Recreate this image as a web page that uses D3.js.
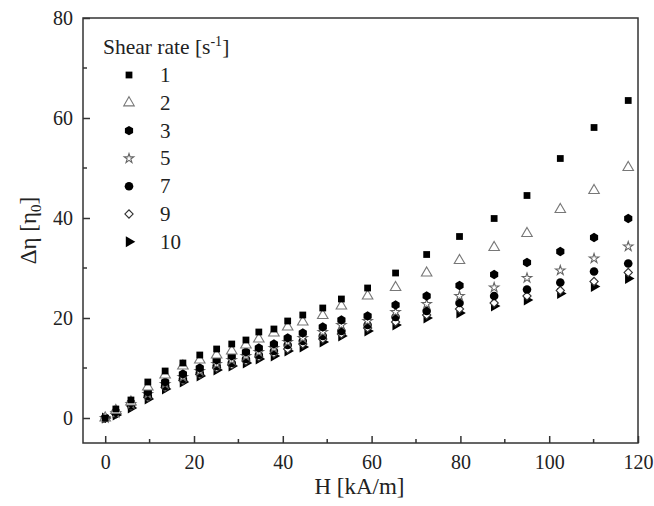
<!DOCTYPE html>
<html>
<head>
<meta charset="utf-8">
<script src="https://cdn.jsdelivr.net/npm/d3@7"></script>
<style>
html,body{margin:0;padding:0;background:#fff;}
svg{display:block;font-family:"Liberation Serif","Times New Roman",serif;}
</style>
</head>
<body>
<svg id="chart" width="654" height="506"></svg>
<script>
const H = [0, 2.4, 5.8, 9.6, 13.5, 17.5, 21.3, 25.1, 28.5, 31.7, 34.6, 38, 41.1, 44.5, 49, 53.2, 59.1, 65.4, 72.4, 79.8, 87.6, 95, 102.5, 110.1, 117.8];
const rate1  = [0, 1.8, 3.6, 7.2, 9.4, 11.0, 12.6, 13.8, 14.8, 15.6, 17.2, 17.8, 19.4, 20.6, 22.0, 23.8, 26.0, 29.0, 32.7, 36.3, 39.9, 44.5, 51.9, 58.1, 63.5];
const rate2  = [0, 1.5, 3.2, 6.2, 8.6, 10.4, 11.6, 12.6, 13.4, 14.6, 15.8, 17.0, 18.2, 19.2, 20.5, 22.4, 24.4, 26.1, 29.0, 31.5, 34.1, 36.9, 41.7, 45.5, 50.1];
const rate3  = [0, 1.2, 3.0, 5.2, 7.2, 8.8, 10.0, 11.6, 12.4, 13.2, 14.0, 14.8, 16.0, 17.0, 18.2, 19.6, 20.4, 22.6, 24.4, 26.5, 28.7, 31.1, 33.3, 36.1, 39.9];
const rate5  = [0, 1.0, 2.8, 4.8, 6.8, 8.2, 9.4, 10.8, 11.6, 12.4, 13.2, 14.0, 15.2, 16.0, 17.2, 18.6, 19.4, 21.2, 22.8, 24.4, 26.1, 28.0, 29.5, 31.9, 34.3];
const rate7  = [0, 0.9, 2.6, 4.4, 6.4, 7.8, 9.0, 10.4, 11.0, 11.8, 12.6, 13.4, 14.6, 15.4, 16.4, 17.4, 18.6, 20.2, 21.4, 23.0, 24.4, 25.7, 27.1, 29.3, 30.9];
const rate9  = [0, 0.8, 2.4, 4.1, 6.1, 7.5, 8.7, 10.0, 10.6, 11.4, 12.2, 12.9, 13.8, 14.8, 15.8, 16.8, 18.0, 19.2, 20.6, 21.8, 23.0, 24.4, 25.5, 27.3, 29.1];
const rate10 = [0, 0.6, 2.0, 3.8, 5.8, 7.2, 8.4, 9.6, 10.4, 11.0, 11.8, 12.4, 13.4, 14.2, 15.2, 16.4, 17.4, 18.6, 20.0, 21.0, 22.4, 23.6, 24.9, 26.3, 27.9];
const seriesNames = ["1", "2", "3", "5", "7", "9", "10"];
const seriesValues = [rate1, rate2, rate3, rate5, rate7, rate9, rate10];
const xTicks = [0, 20, 40, 60, 80, 100, 120];
const yTicks = [0, 20, 40, 60, 80];
const xMinor = [10, 30, 50, 70, 90, 110];
const yMinor = [10, 30, 50, 70];

const svg = d3.select("#chart");
const L = 83, R = 638, T = 18, B = 443;
const x = d3.scaleLinear().domain([-5, 120]).range([L, R]);
const y = d3.scaleLinear().domain([-5, 80]).range([B, T]);

const axisColor = "#333";
svg.append("rect").attr("x", L).attr("y", T).attr("width", R - L).attr("height", B - T)
  .attr("fill", "none").attr("stroke", axisColor).attr("stroke-width", 1.5);

const gx = svg.append("g").attr("transform", `translate(0,${B})`)
  .call(d3.axisBottom(x).tickValues(xTicks).tickSizeInner(-7).tickSizeOuter(0).tickPadding(12));
gx.select(".domain").remove();
gx.selectAll(".tick line").attr("stroke", axisColor).attr("stroke-width", 1.5);
gx.selectAll(".tick text").attr("font-size", 20).attr("fill", "#222").attr("font-family", "Liberation Serif");
gx.selectAll(".minor").data(xMinor).enter().append("line")
  .attr("x1", d => x(d)).attr("x2", d => x(d)).attr("y1", 0).attr("y2", -4)
  .attr("stroke", axisColor).attr("stroke-width", 1.5);

const gy = svg.append("g").attr("transform", `translate(${L},0)`)
  .call(d3.axisLeft(y).tickValues(yTicks).tickSizeInner(-7).tickSizeOuter(0).tickPadding(10));
gy.select(".domain").remove();
gy.selectAll(".tick line").attr("stroke", axisColor).attr("stroke-width", 1.5);
gy.selectAll(".tick text").attr("font-size", 20).attr("fill", "#222").attr("font-family", "Liberation Serif");
gy.selectAll(".minor").data(yMinor).enter().append("line")
  .attr("y1", d => y(d)).attr("y2", d => y(d)).attr("x1", 0).attr("x2", 4)
  .attr("stroke", axisColor).attr("stroke-width", 1.5);

svg.append("text").attr("x", (L + R) / 2 - 1).attr("y", 494).attr("text-anchor", "middle")
  .attr("font-size", 23).attr("fill", "#222").text("H [kA/m]");
const yl = svg.append("text").attr("transform", `translate(36,${(T + B) / 2}) rotate(-90)`)
  .attr("text-anchor", "middle").attr("font-size", 23).attr("fill", "#222");
yl.append("tspan").text("Δη [η");
yl.append("tspan").attr("font-size", 15).attr("dy", 5).text("0");
yl.append("tspan").attr("dy", -5).text("]");

const hexagon = {
  draw(ctx, size) {
    const r = Math.sqrt(size / (1.5 * Math.sqrt(3)));
    for (let i = 0; i < 6; i++) {
      const a = Math.PI / 6 + i * Math.PI / 3;
      const px = r * Math.cos(a), py = r * Math.sin(a);
      if (i === 0) ctx.moveTo(px, py); else ctx.lineTo(px, py);
    }
    ctx.closePath();
  }
};
const styles = [
  {type: d3.symbolSquare, size: 46, fill: "#000", stroke: "none", rot: 0},
  {type: d3.symbolTriangle, size: 48, fill: "#fff", stroke: "#777", rot: 0},
  {type: hexagon, size: 58, fill: "#000", stroke: "none", rot: 0},
  {type: d3.symbolStar, size: 28, fill: "#fff", stroke: "#666", rot: 0},
  {type: d3.symbolCircle, size: 58, fill: "#000", stroke: "none", rot: 0},
  {type: d3.symbolSquare, size: 34, fill: "#fff", stroke: "#333", rot: 45},
  {type: d3.symbolTriangle, size: 52, fill: "#000", stroke: "none", rot: 90}
];

const plot = svg.append("g");
for (let s = seriesValues.length - 1; s >= 0; s--) {
  const st = styles[s];
  const sym = d3.symbol().type(st.type).size(st.size);
  plot.append("g").selectAll("path").data(H.map((h, i) => [h, seriesValues[s][i]])).enter()
    .append("path")
    .attr("d", sym)
    .attr("transform", d => `translate(${x(d[0])},${y(d[1])}) rotate(${st.rot})`)
    .attr("fill", st.fill).attr("stroke", st.stroke).attr("stroke-width", 1.1);
}

const lg = svg.append("g");
const lt = lg.append("text").attr("x", 103).attr("y", 54).attr("font-size", 21.5).attr("fill", "#222");
lt.append("tspan").text("Shear rate [s");
lt.append("tspan").attr("font-size", 14).attr("dy", -8).text("-1");
lt.append("tspan").attr("dy", 8).text("]");
seriesNames.forEach((n, i) => {
  const st = styles[i];
  const cy = 75 + i * 27.8;
  lg.append("path").attr("d", d3.symbol().type(st.type).size(st.size)())
    .attr("transform", `translate(129,${cy}) rotate(${st.rot})`)
    .attr("fill", st.fill).attr("stroke", st.stroke).attr("stroke-width", 1.1);
  lg.append("text").attr("x", 160).attr("y", cy + 7).attr("font-size", 21).attr("fill", "#222").text(n);
});
</script>
</body>
</html>
